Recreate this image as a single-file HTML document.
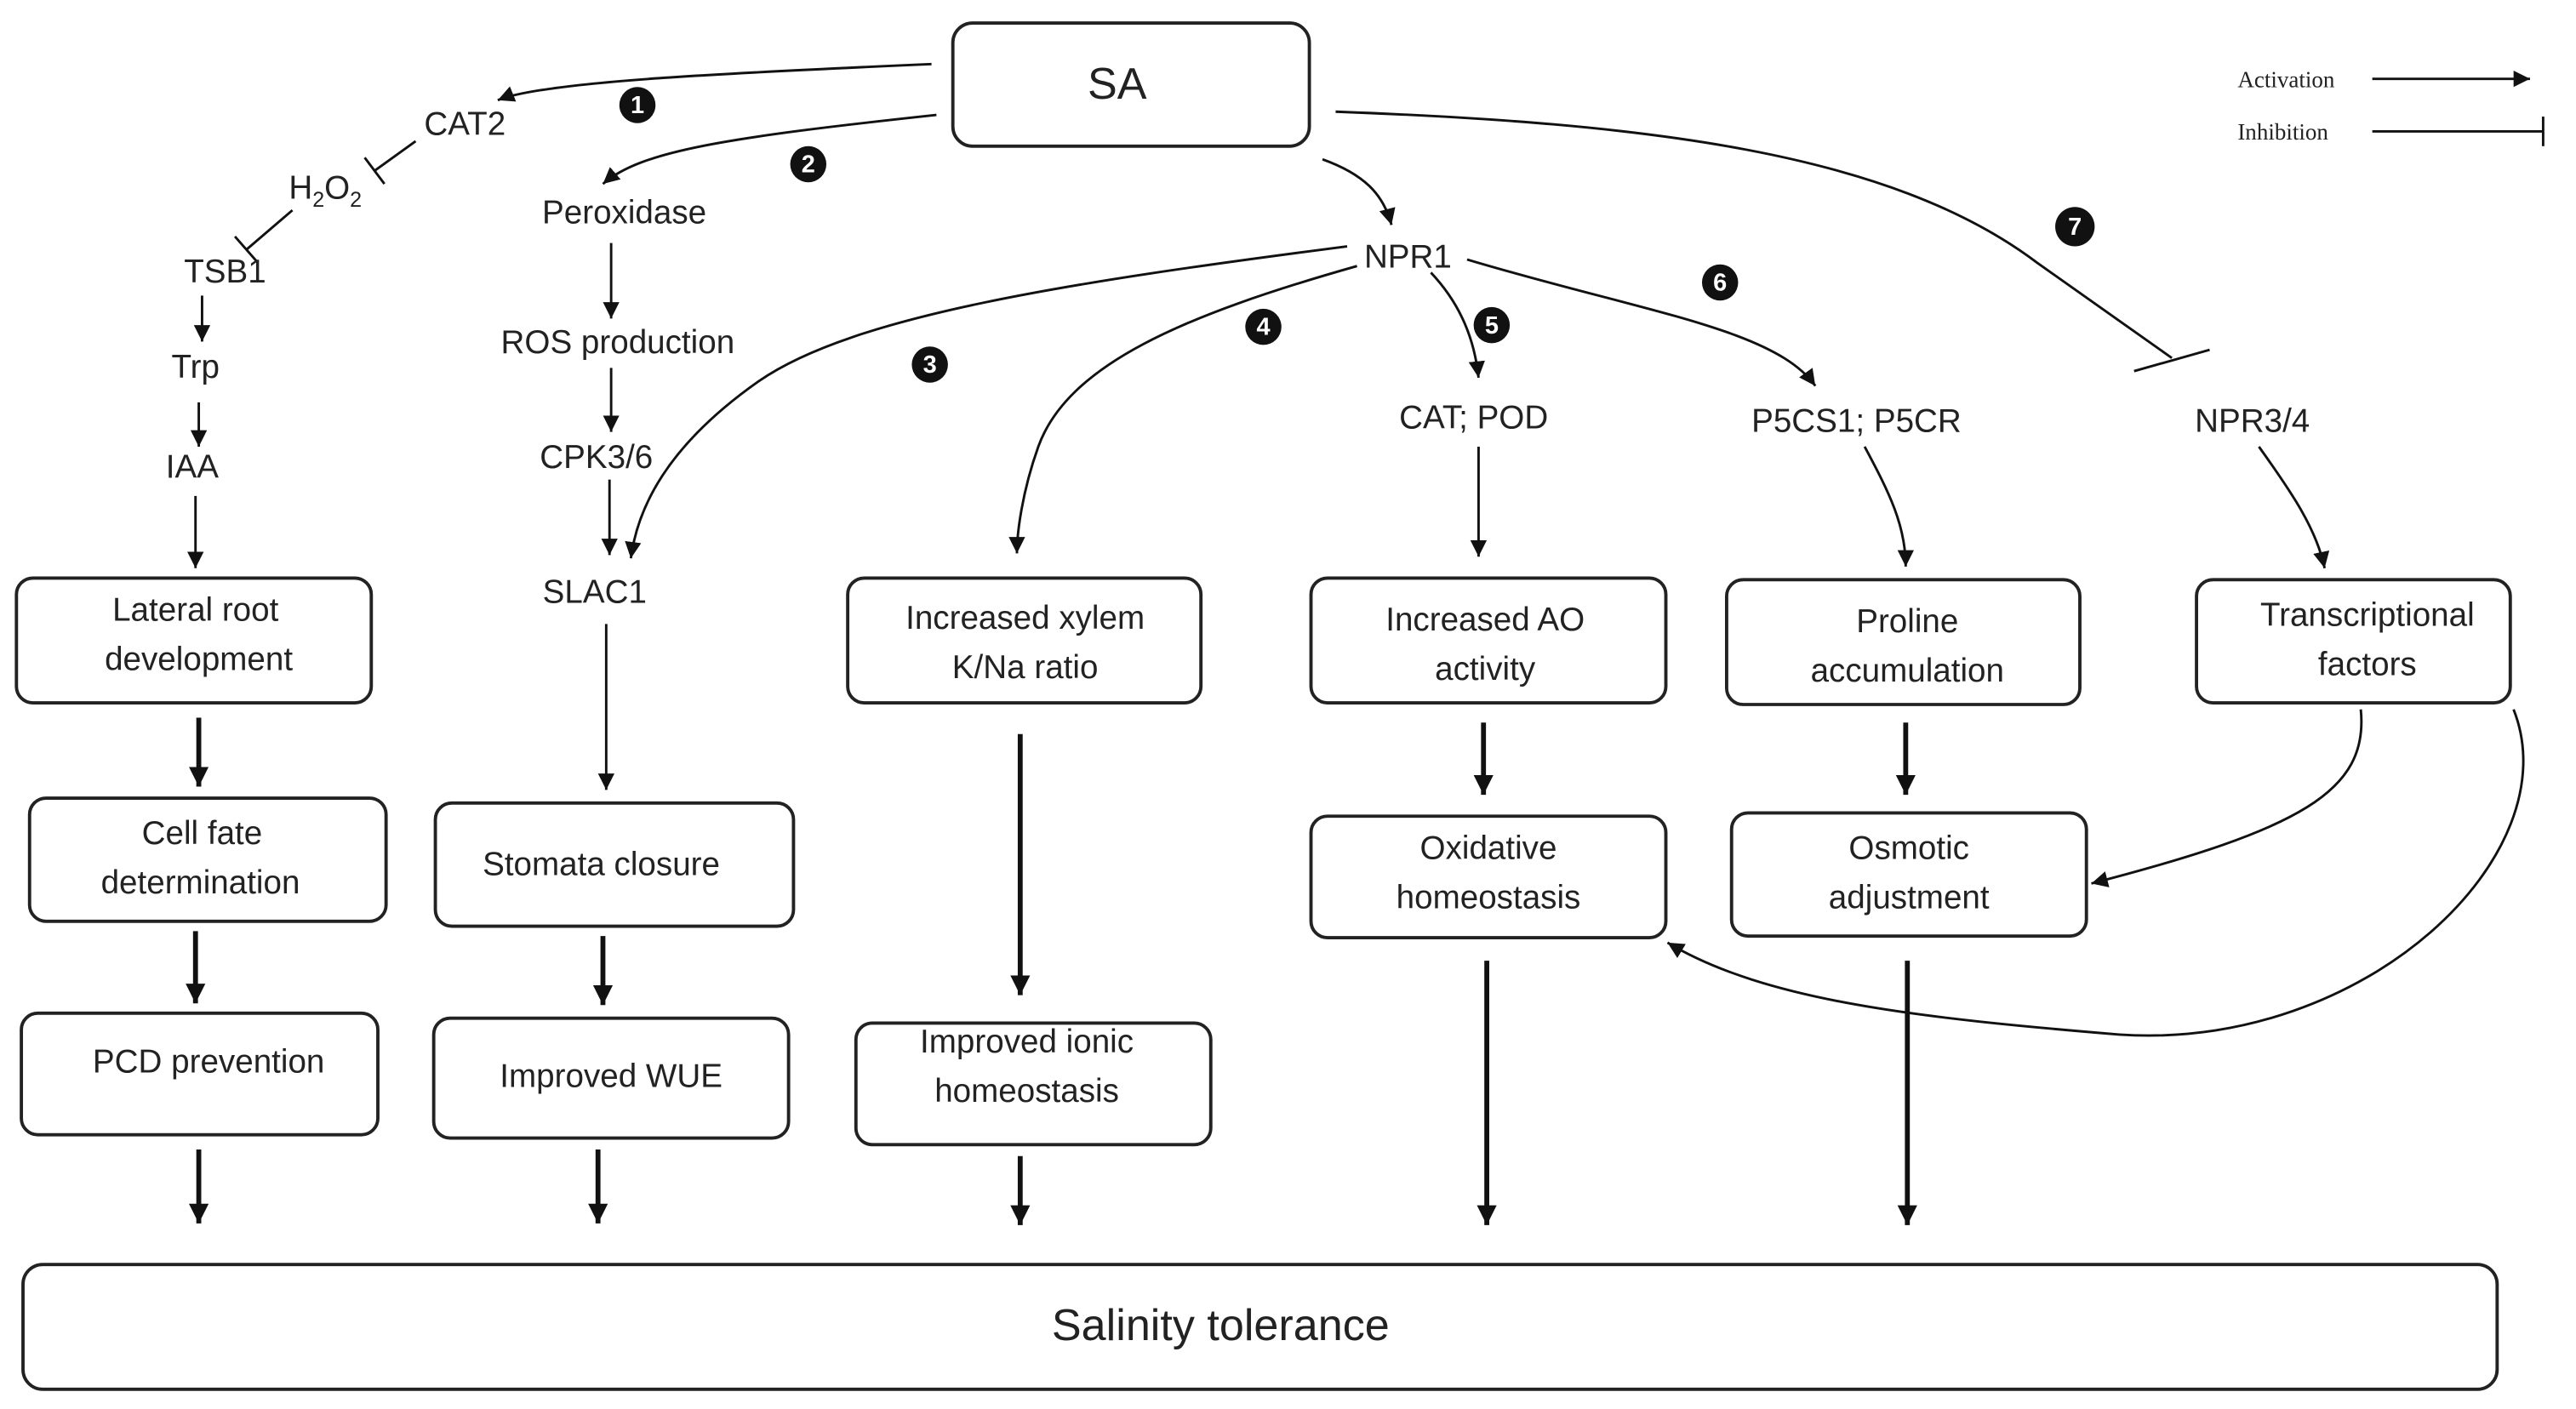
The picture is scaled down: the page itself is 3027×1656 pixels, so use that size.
<!DOCTYPE html>
<html><head><meta charset="utf-8"><style>
html,body{margin:0;padding:0;background:#fff;}
svg{display:block;}
text{font-family:"Liberation Sans",sans-serif;fill:#222;}
</style></head><body>
<svg width="3027" height="1656" viewBox="0 0 1568 858" preserveAspectRatio="none" xmlns="http://www.w3.org/2000/svg">
<defs>
<marker id="a" markerUnits="userSpaceOnUse" markerWidth="12" markerHeight="12" refX="10" refY="5" orient="auto"><path d="M0,0 L10,5 L0,10 z" fill="#111"/></marker>
<marker id="b" markerUnits="userSpaceOnUse" markerWidth="14" markerHeight="14" refX="12" refY="6" orient="auto"><path d="M0,0 L12,6 L0,12 z" fill="#111"/></marker>
</defs>
<g fill="none" stroke="#222" stroke-width="2">
<rect x="580" y="14" width="217" height="75" rx="12"/>
<rect x="10" y="352" width="216" height="76" rx="10"/>
<rect x="18" y="486" width="217" height="75" rx="10"/>
<rect x="13" y="617" width="217" height="74" rx="10"/>
<rect x="265" y="489" width="218" height="75" rx="10"/>
<rect x="264" y="620" width="216" height="73" rx="10"/>
<rect x="516" y="352" width="215" height="76" rx="10"/>
<rect x="521" y="623" width="216" height="74" rx="10"/>
<rect x="798" y="352" width="216" height="76" rx="10"/>
<rect x="798" y="497" width="216" height="74" rx="10"/>
<rect x="1051" y="353" width="215" height="76" rx="10"/>
<rect x="1054" y="495" width="216" height="75" rx="10"/>
<rect x="1337" y="353" width="191" height="75" rx="10"/>
<rect x="14" y="770" width="1506" height="76" rx="12"/>
</g>
<g fill="none" stroke="#111" stroke-width="1.5" marker-end="url(#a)">
<path d="M567,39 C430,45 330,50 303,61"/>
<path d="M570,70 C440,84 390,92 367,112"/>
<path d="M123,180 L123,208"/>
<path d="M121,245 L121,272"/>
<path d="M119,302 L119,346"/>
<path d="M372,148 L372,194"/>
<path d="M372,224 L372,263"/>
<path d="M371,292 L371,338"/>
<path d="M369,380 L369,481"/>
<path d="M805,97 C830,106 842,118 847,137"/>
<path d="M820,150 C650,172 520,192 462,232 C405,272 388,310 384,340"/>
<path d="M826,162 C720,192 650,222 632,272 C622,300 619,325 619,337"/>
<path d="M871,166 C886,182 897,202 900,230"/>
<path d="M893,158 C1000,190 1080,200 1105,235"/>
<path d="M900,272 L900,339"/>
<path d="M1135,272 C1150,300 1160,320 1160,345"/>
<path d="M1375,272 C1395,300 1410,322 1415,346"/>
<path d="M1437,432 C1442,482 1400,505 1273,538"/>
<path d="M1530,432 C1565,520 1440,640 1290,630 C1170,620 1075,610 1015,574"/>
<path d="M1444,48 L1540,48"/>
</g>
<g fill="none" stroke="#111" stroke-width="1.5">
<path d="M253,86 L228,104"/><path d="M222,96 L234,112"/>
<path d="M178,128 L150,152"/><path d="M143,144 L157,160"/>
<path d="M813,68 C1000,75 1150,92 1240,160 L1322,218"/><path d="M1299,226 L1345,213"/>
<path d="M1444,80 L1548,80"/><path d="M1548,71 L1548,89"/>
</g>
<g fill="none" stroke="#111" stroke-width="3" marker-end="url(#b)">
<path d="M121,437 L121,479"/>
<path d="M119,567 L119,611"/>
<path d="M121,700 L121,745"/>
<path d="M367,570 L367,612"/>
<path d="M364,700 L364,745"/>
<path d="M621,447 L621,606"/>
<path d="M621,704 L621,746"/>
<path d="M903,440 L903,484"/>
<path d="M905,585 L905,746"/>
<path d="M1160,440 L1160,484"/>
<path d="M1161,585 L1161,746"/>
</g>
<g fill="#111">
<circle cx="388" cy="64" r="11"/><circle cx="492" cy="100" r="11"/><circle cx="566" cy="222" r="11"/>
<circle cx="769" cy="199" r="11"/><circle cx="908" cy="198" r="11"/><circle cx="1047" cy="172" r="11"/><circle cx="1263" cy="138" r="12"/>
</g>
<g font-size="15" font-weight="bold" text-anchor="middle">
<text x="388" y="69" style="fill:#fff">1</text><text x="492" y="105" style="fill:#fff">2</text><text x="566" y="227" style="fill:#fff">3</text>
<text x="769" y="204" style="fill:#fff">4</text><text x="908" y="203" style="fill:#fff">5</text><text x="1047" y="177" style="fill:#fff">6</text><text x="1263" y="143" style="fill:#fff">7</text>
</g>
<g font-size="20" text-anchor="middle">
<text x="680" y="60" font-size="27">SA</text>
<text x="283" y="82">CAT2</text>
<text x="198" y="121">H<tspan font-size="13" dy="5">2</tspan><tspan dy="-5">O</tspan><tspan font-size="13" dy="5">2</tspan></text>
<text x="137" y="172">TSB1</text>
<text x="119" y="230">Trp</text>
<text x="117" y="291">IAA</text>
<text x="380" y="136">Peroxidase</text>
<text x="376" y="215">ROS production</text>
<text x="363" y="285">CPK3/6</text>
<text x="362" y="367">SLAC1</text>
<text x="857" y="163">NPR1</text>
<text x="897" y="261">CAT; POD</text>
<text x="1130" y="263">P5CS1; P5CR</text>
<text x="1371" y="263">NPR3/4</text>
<text x="119" y="378">Lateral root</text><text x="121" y="408">development</text>
<text x="123" y="514">Cell fate</text><text x="122" y="544">determination</text>
<text x="127" y="653">PCD prevention</text>
<text x="366" y="533">Stomata closure</text>
<text x="372" y="662">Improved WUE</text>
<text x="624" y="383">Increased xylem</text><text x="624" y="413">K/Na ratio</text>
<text x="625" y="641">Improved ionic</text><text x="625" y="671">homeostasis</text>
<text x="904" y="384">Increased AO</text><text x="904" y="414">activity</text>
<text x="906" y="523">Oxidative</text><text x="906" y="553">homeostasis</text>
<text x="1161" y="385">Proline</text><text x="1161" y="415">accumulation</text>
<text x="1162" y="523">Osmotic</text><text x="1162" y="553">adjustment</text>
<text x="1441" y="381">Transcriptional</text><text x="1441" y="411">factors</text>
<text x="743" y="816" font-size="27">Salinity tolerance</text>
</g>
<g font-size="14">
<text x="1362" y="53" style="font-family:'Liberation Serif',serif">Activation</text>
<text x="1362" y="85" style="font-family:'Liberation Serif',serif">Inhibition</text>
</g>
</svg>
</body></html>
